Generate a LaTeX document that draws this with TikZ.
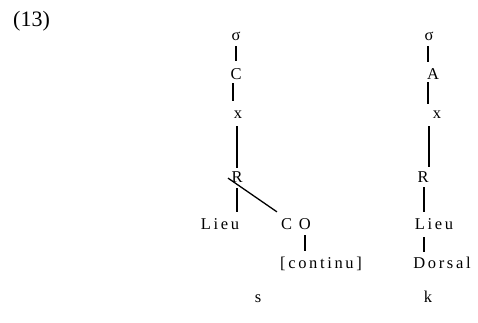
\documentclass[tikz,border=0pt]{standalone}
\usepackage{fontspec}
\setmainfont{Liberation Serif}
\newfontfamily\spacedfont[LetterSpace=16]{Liberation Serif}
\usetikzlibrary{calc}

\begin{document}
\begin{tikzpicture}[x=1pt,y=-1pt,
  lbl/.style={inner sep=0pt,anchor=base,font=\fontsize{16.5}{18}\selectfont},
  wide/.style={inner sep=0pt,anchor=base,font=\fontsize{16.5}{18}\spacedfont},
  stem/.style={line width=2.4pt},
  branch/.style={line width=1.3pt}]
  \useasboundingbox (0,0) rectangle (478,322);
  \node[inner sep=0pt,anchor=base west,font=\fontsize{22}{24}\selectfont] (num) at (13,26) {(13)};
  % left tree: s
  \node[lbl] (sigL) at (236,40) {σ};
  \node[lbl] (CL) at (236,79.5) {C};
  \node[lbl] (xL) at (238,118) {x};
  \node[lbl] (RL) at (237,182.5) {R};
  \node[wide] (lieuL) at (220,229.5) {Lieu};
  \node[wide] (coL) at (296,229.5) {C O};
  \node[wide] (contL) at (321,268) {[continu]};
  \node[lbl] (sL) at (258,302) {s};
  \draw[stem] ($(sigL.south)+(0,6)$) -- ($(sigL.south |- CL.north)+(0,-7)$);
  \draw[stem] ($(CL.south)+(-3,3.5)$) -- ($(CL.south |- xL.north)+(-3,-9)$);
  \draw[stem] ($(xL.south)+(-1,8)$) -- ($(xL.south |- RL.north)+(-1,-3.5)$);
  \draw[stem] ($(RL.south)+(0,5.5)$) -- ($(RL.south |- lieuL.north)+(0,-6.5)$);
  \draw[branch] ($(RL.center)+(-9,1)$) -- ($(coL.north west)+(-4,-6.5)$);
  \draw[stem] ($(coL.south)+(9,5.5)$) -- ($(coL.south |- contL.north)+(9,-5)$);
  % right tree: k
  \node[lbl] (sigR) at (429,40) {σ};
  \node[lbl] (AR) at (433,79.5) {A};
  \node[lbl] (xR) at (437,118) {x};
  \node[lbl] (RR) at (423,182.5) {R};
  \node[wide] (lieuR) at (434,229.5) {Lieu};
  \node[wide] (dorsR) at (442,268) {Dorsal};
  \node[lbl] (kR) at (428,302) {k};
  \draw[stem] ($(sigR.south)+(-1,6)$) -- ($(sigR.south |- AR.north)+(-1,-6.5)$);
  \draw[stem] ($(AR.south)+(-5,2.5)$) -- ($(AR.south |- xR.north)+(-5,-6.5)$);
  \draw[stem] ($(xR.south)+(-8,8)$) -- ($(xR.south |- RR.north)+(-8,-4.5)$);
  \draw[stem] ($(RR.south)+(1,4.5)$) -- ($(RR.south |- lieuR.north)+(1,-6.5)$);
  \draw[stem] ($(lieuR.south)+(-10,7.5)$) -- ($(lieuR.south |- dorsR.north)+(-10,-4)$);
\end{tikzpicture}
\end{document}
